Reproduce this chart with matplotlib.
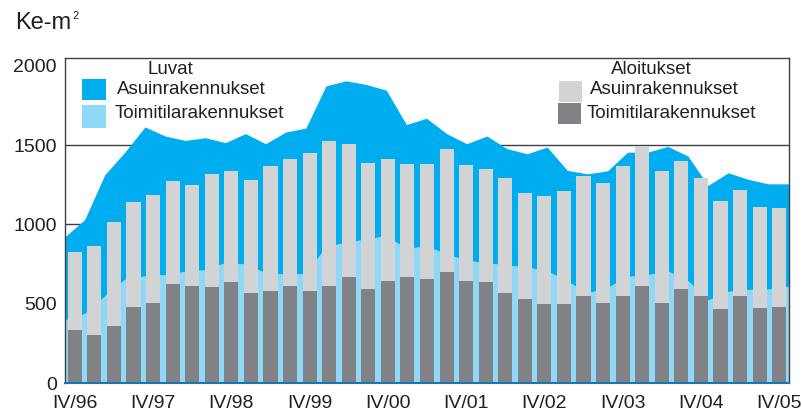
import matplotlib
matplotlib.use('Agg')
import matplotlib.pyplot as plt
from matplotlib.patches import Rectangle
import numpy as np

plt.rcParams['font.family'] = ['Liberation Sans', 'DejaVu Sans']

# Luvat (permits), quarterly IV/96 .. IV/05, stacked area
luvat_toimi = [394, 435, 546, 652, 673, 680, 702, 711, 757, 747, 692, 684, 687,
               858, 885, 905, 926, 846, 861, 810, 770, 755, 741, 728, 704, 640,
               565, 600, 670, 680, 704, 642, 520, 575, 587, 589, 606]
luvat_asuin = [523, 592, 764, 801, 939, 875, 825, 833, 756, 823, 814, 896, 918,
               1013, 1018, 975, 918, 781, 806, 760, 736, 800, 734, 715, 781, 698,
               751, 735, 783, 773, 785, 786, 723, 748, 694, 664, 647]

# Aloitukset (starts), stacked bars
alo_toimi = [335, 300, 361, 477, 506, 627, 614, 608, 639, 570, 582, 614, 582,
             614, 671, 595, 646, 671, 658, 703, 646, 639, 570, 532, 500, 500,
             551, 506, 551, 614, 506, 595, 551, 468, 551, 475, 481]
alo_asuin = [490, 567, 652, 662, 677, 645, 633, 708, 696, 708, 785, 797, 867,
             911, 835, 791, 765, 709, 722, 772, 727, 709, 721, 664, 677, 709,
             753, 753, 816, 881, 829, 804, 740, 678, 664, 633, 620]

tick_labels = ['IV/96', 'IV/97', 'IV/98', 'IV/99', 'IV/00',
               'IV/01', 'IV/02', 'IV/03', 'IV/04', 'IV/05']

C_ASUIN_L = '#00aeef'
C_TOIMI_L = '#8fd8f7'
C_ASUIN_A = '#d1d3d4'
C_TOIMI_A = '#808285'

W, H = 802, 412
fig = plt.figure(figsize=(W / 100, H / 100), dpi=100)
ax = fig.add_axes([65 / W, (H - 383) / H, (789 - 65) / W, (383 - 58) / H])

n = len(alo_toimi)
xb = np.arange(n)
# area vertices run from the left edge to the right edge of the frame
xa = np.linspace(-0.5, n - 0.5, n)

ax.stackplot(xa, luvat_toimi, luvat_asuin, colors=[C_TOIMI_L, C_ASUIN_L],
             linewidth=0, zorder=2)
ax.bar(xb, alo_toimi, 0.72, color=C_TOIMI_A, linewidth=0, zorder=3)
ax.bar(xb, alo_asuin, 0.72, bottom=alo_toimi, color=C_ASUIN_A, linewidth=0, zorder=3)

ax.set_xlim(-0.5, n - 0.5)
ax.set_ylim(0, 2050)
ax.set_yticks([0, 500, 1000, 1500, 2000])
ax.set_xticks(xb[::4])
ax.set_xticklabels(tick_labels)
ax.tick_params(axis='both', length=0, labelsize=14, colors='#231f20')
ax.tick_params(axis='x', pad=9)
ax.tick_params(axis='y', pad=6)
ax.yaxis.grid(True, color='#404040', linewidth=1, zorder=1)
ax.yaxis.get_gridlines()[-1].set_visible(False)
ax.set_axisbelow(True)

for s in ['left', 'top', 'right']:
    ax.spines[s].set_color('#404040')
    ax.spines[s].set_linewidth(1)
ax.spines['bottom'].set_color('#1b75b0')
ax.spines['bottom'].set_linewidth(1.5)
ax.spines['bottom'].set_zorder(5)

# unit label
fig.text(15 / W, 1 - 23 / H, 'Ke-m', fontsize=17, ha='left', va='center', color='#231f20')
fig.text(72 / W, 1 - 16 / H, '2', fontsize=8, ha='left', va='center', color='#231f20')

# legends drawn by hand
def swatch(x0, y0, x1, y1, color):
    fig.add_artist(Rectangle((x0 / W, 1 - y1 / H), (x1 - x0) / W, (y1 - y0) / H,
                             transform=fig.transFigure, facecolor=color,
                             edgecolor='none', zorder=10))

def label(x, y, s, ha='left'):
    fig.text(x / W, 1 - y / H, s, fontsize=13.5, ha=ha, va='center',
             color='#231f20', zorder=10)

label(170, 70, 'Luvat', ha='center')
swatch(82, 79, 106, 100, C_ASUIN_L)
label(117, 89, 'Asuinrakennukset')
swatch(82, 105, 106, 128, C_TOIMI_L)
label(115, 113, 'Toimitilarakennukset')

label(651, 69, 'Aloitukset', ha='center')
swatch(559, 81, 582, 102, C_ASUIN_A)
label(590, 90, 'Asuinrakennukset')
swatch(558, 103, 581, 124, C_TOIMI_A)
label(587, 114, 'Toimitilarakennukset')

fig.savefig('out.png', dpi=100, facecolor='white')
